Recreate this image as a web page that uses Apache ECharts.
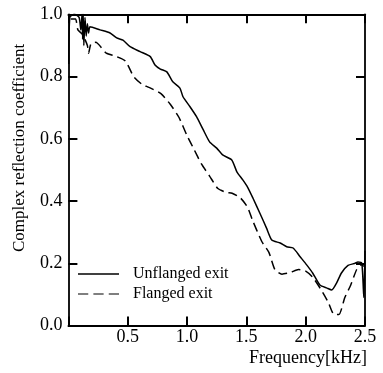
<!DOCTYPE html>
<html>
<head>
<meta charset="utf-8">
<script src="https://cdn.jsdelivr.net/npm/echarts@6/dist/echarts.min.js"></script>
<style>
  html, body { margin: 0; padding: 0; background: #fff; }
  #chart { width: 383px; height: 373px; }
</style>
</head>
<body>
<div id="chart"></div>
<script>
// Unflanged exit (solid line)
const unflangedFreq = [0.003, 0.012, 0.05, 0.09, 0.105, 0.115, 0.12, 0.125, 0.13, 0.14, 0.15, 0.16, 0.17, 0.182,
  0.266, 0.351, 0.407, 0.46, 0.52, 0.605, 0.69, 0.73, 0.775, 0.83, 0.88, 0.94, 0.966, 1.025, 1.08, 1.135,
  1.19, 1.25, 1.30, 1.377, 1.42, 1.47, 1.51, 1.556, 1.615, 1.67, 1.714, 1.785, 1.84, 1.894, 1.953, 2.01,
  2.06, 2.12, 2.18, 2.22, 2.26, 2.30, 2.357, 2.417, 2.44, 2.473, 2.49, 2.5];
const unflangedVal = [0.84, 0.99, 1.0, 0.99, 0.95, 1.0, 0.92, 1.0, 0.90, 0.99, 0.93, 0.97, 0.94, 0.96,
  0.95, 0.94, 0.924, 0.917, 0.896, 0.88, 0.864, 0.837, 0.824, 0.815, 0.783, 0.763, 0.735, 0.703, 0.671, 0.63,
  0.59, 0.57, 0.548, 0.532, 0.494, 0.468, 0.445, 0.409, 0.36, 0.313, 0.275, 0.265, 0.253, 0.249, 0.221, 0.194,
  0.168, 0.13, 0.12, 0.114, 0.136, 0.168, 0.193, 0.2, 0.204, 0.2, 0.09, 0.24];

// Flanged exit (dashed line)
const flangedFreq = [0.02, 0.06, 0.08, 0.12, 0.16, 0.17, 0.19, 0.23, 0.32, 0.4, 0.48, 0.55, 0.62, 0.68, 0.78,
  0.86, 0.93, 1.0, 1.06, 1.12, 1.19, 1.26, 1.33, 1.38, 1.45, 1.51, 1.55, 1.63, 1.69, 1.74, 1.8, 1.87, 1.94,
  2.0, 2.06, 2.13, 2.19, 2.24, 2.28, 2.33, 2.38, 2.43, 2.47, 2.49];
const flangedVal = [0.985, 0.985, 0.95, 0.935, 0.90, 0.875, 0.905, 0.91, 0.875, 0.865, 0.85, 0.80, 0.775, 0.765, 0.745,
  0.71, 0.67, 0.61, 0.565, 0.52, 0.48, 0.44, 0.428, 0.425, 0.41, 0.38, 0.34, 0.27, 0.235, 0.18, 0.165, 0.17, 0.18,
  0.175, 0.155, 0.115, 0.075, 0.035, 0.035, 0.09, 0.13, 0.18, 0.195, 0.19];

const seriesNames = ['Unflanged exit', 'Flanged exit'];
const xTicks = { min: 0, max: 2.5, interval: 0.5 };
const yTicks = { min: 0, max: 1.0, interval: 0.2 };

const font = '"Liberation Serif", "DejaVu Serif", serif';
const chart = echarts.init(document.getElementById('chart'));

// 外框四邊都畫，刻度朝內（每個軸各自一份物件）
const frame = () => ({ show: true, onZero: false, lineStyle: { color: '#000', width: 1.8 } });
const tick = () => ({ show: true, inside: true, length: 9, lineStyle: { color: '#000', width: 2 } });

// 圖例圖示：實線 / 三段虛線
const solidIcon = 'rect';
const dashIcon = 'path://M0,0h10v1h-10z M15,0h10v1h-10z M30,0h10v1h-10z';

chart.setOption({
  backgroundColor: '#fff',
  animation: false,
  grid: { left: 68.4, right: 18, top: 14.3, bottom: 47.5 },
  legend: {
    data: [
      { name: seriesNames[0], icon: solidIcon },
      { name: seriesNames[1], icon: dashIcon }
    ],
    orient: 'vertical',
    left: 78,
    top: 266,
    padding: 0,
    itemWidth: 41,
    itemHeight: 1.6,
    itemGap: 4,
    itemStyle: { color: '#000', borderWidth: 0 },
    textStyle: { fontFamily: font, fontSize: 16, color: '#000', padding: [0, 0, 0, 9] }
  },
  xAxis: [
    {
      type: 'value', position: 'bottom', ...xTicks,
      name: 'Frequency[kHz]',
      nameLocation: 'end',
      nameGap: 2,
      nameTextStyle: { fontFamily: font, fontSize: 18, color: '#000', align: 'right', verticalAlign: 'top', padding: [24, 0, 0, 0] },
      axisLine: frame(), axisTick: tick(),
      axisLabel: { fontFamily: font, fontSize: 18, color: '#000', margin: 3, formatter: v => v === 0 ? '' : v.toFixed(1) },
      splitLine: { show: false }
    },
    {
      type: 'value', position: 'top', ...xTicks,
      axisLine: frame(), axisTick: tick(), axisLabel: { show: false }, splitLine: { show: false }
    }
  ],
  yAxis: [
    {
      type: 'value', position: 'left', ...yTicks,
      name: 'Complex reflection coefficient',
      nameLocation: 'middle',
      nameGap: 40,
      nameTextStyle: { fontFamily: font, fontSize: 17, color: '#000', padding: [0, 0, 0, 44] },
      axisLine: frame(), axisTick: tick(),
      axisLabel: { fontFamily: font, fontSize: 18, color: '#000', margin: 6, formatter: v => v.toFixed(1) },
      splitLine: { show: false }
    },
    {
      type: 'value', position: 'right', ...yTicks,
      axisLine: frame(), axisTick: tick(), axisLabel: { show: false }, splitLine: { show: false }
    }
  ],
  series: [
    {
      name: seriesNames[0], type: 'line', symbol: 'none', smooth: 0.2,
      data: unflangedFreq.map((f, i) => [f, unflangedVal[i]]),
      itemStyle: { color: '#000' },
      lineStyle: { color: '#000', width: 1.5 }
    },
    {
      name: seriesNames[1], type: 'line', symbol: 'none', smooth: 0.2,
      data: flangedFreq.map((f, i) => [f, flangedVal[i]]),
      itemStyle: { color: '#000' },
      lineStyle: { color: '#000', width: 1.5, type: [9, 5] }
    }
  ]
});
</script>
</body>
</html>
